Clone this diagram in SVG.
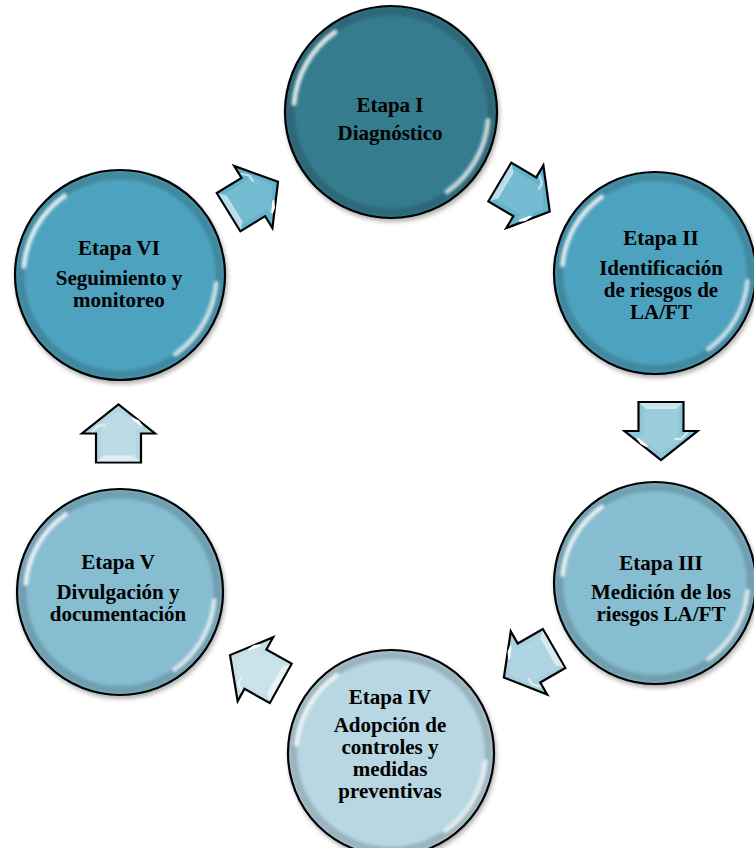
<svg xmlns="http://www.w3.org/2000/svg" xmlns:xlink="http://www.w3.org/1999/xlink" width="754" height="848" viewBox="0 0 754 848">
<style>
  .stage { stroke: #000; stroke-width: 2.2; }
  .t { font-family: "Liberation Serif", "Times New Roman", serif; font-weight: bold; font-size: 21px; fill: #000; text-anchor: middle; }
  .arrow { stroke: #000; stroke-width: 2.2; stroke-linejoin: miter; }
  .c1 { fill: #357B8F; }
  .c2 { fill: #4EA3BF; }
  .c3 { fill: #86BDD1; }
  .c4 { fill: #B8D7E3; }
  .a1 { fill: #62B3CC; }
  .a2 { fill: #8CC5D8; }
  .a3 { fill: #A6D0DE; }
  .a4 { fill: #C4DFE8; }
  .a5 { fill: #B2D6E2; }
</style>
<defs>
  <filter id="shadow" x="-20%" y="-20%" width="140%" height="140%">
    <feDropShadow dx="1.5" dy="3" stdDeviation="2.2" flood-color="#000" flood-opacity="0.3"/>
  </filter>
  <filter id="soft" x="-20%" y="-20%" width="140%" height="140%">
    <feGaussianBlur stdDeviation="1.6"/>
  </filter>
  <g id="gloss">
    <circle r="95" fill="none" stroke="#000" stroke-opacity="0.16" stroke-width="8" filter="url(#soft)"/>
    <path d="M -91.6 -8 A 92 92 0 0 1 -52.8 -75.4" fill="none" stroke="#fff" stroke-opacity="0.85" stroke-width="4.5" stroke-linecap="round" filter="url(#soft)"/>
    <path d="M 91.6 8 A 92 92 0 0 1 52.8 75.4" fill="none" stroke="#fff" stroke-opacity="0.75" stroke-width="4.5" stroke-linecap="round" filter="url(#soft)"/>
  </g>
  <path id="arrowShape" d="M -29 -22.5 L 0 -22.5 L 0 -36.5 L 29 0 L 0 36.5 L 0 22.5 L -29 22.5 Z"/>
  <g id="arrowGloss">
    <path d="M -24 -17.5 L 5 -17.5 L 5 -26 L 22 0 L 5 26 L 5 17.5 L -24 17.5 Z" fill="#fff" fill-opacity="0.12"/>
    <path d="M -28 -21.5 L -22 -15 L -22 15 L -28 21.5 Z" fill="#fff" fill-opacity="0.55"/>
    <path d="M 8 23 L 15 14 L 12 20 Z" fill="#fff" fill-opacity="0.9" stroke="#fff" stroke-width="2" stroke-linejoin="round"/>
    <path d="M 2 -26 L 8 -20 L 8 -14" fill="none" stroke="#fff" stroke-opacity="0.6" stroke-width="2" stroke-linecap="round"/>
  </g>
</defs>

<g id="connectors">
  <g transform="translate(524.8,196.8) rotate(30.6)">
    <use href="#arrowShape" class="arrow a1"/>
    <use href="#arrowGloss"/>
  </g>
  <g transform="translate(661,431) rotate(90)">
    <use href="#arrowShape" class="arrow a2"/>
    <use href="#arrowGloss"/>
  </g>
  <g transform="translate(529,663) rotate(150)">
    <use href="#arrowShape" class="arrow a3"/>
    <use href="#arrowGloss"/>
  </g>
  <g transform="translate(255.4,669.2) rotate(209.1)">
    <use href="#arrowShape" class="arrow a4"/>
    <use href="#arrowGloss"/>
  </g>
  <g transform="translate(118.5,433.5) rotate(-90)">
    <use href="#arrowShape" class="arrow a5"/>
    <use href="#arrowGloss"/>
  </g>
  <g transform="translate(253.3,197) rotate(-31.6)">
    <use href="#arrowShape" class="arrow a1"/>
    <use href="#arrowGloss"/>
  </g>
</g>

<g id="etapa1">
  <circle cx="391" cy="112" r="106" class="stage c1" filter="url(#shadow)"/>
  <use href="#gloss" transform="translate(391,112) scale(1.06)"/>
  <text class="t" x="390" y="111.5">Etapa I</text>
  <text class="t" x="390" y="140">Diagnóstico</text>
</g>

<g id="etapa2">
  <circle cx="655" cy="273" r="101" class="stage c2" filter="url(#shadow)"/>
  <use href="#gloss" transform="translate(655,273) scale(1.01)"/>
  <text class="t" x="661" y="245">Etapa II</text>
  <text class="t" x="661" y="275">Identificación<tspan x="661" dy="22">de riesgos de</tspan><tspan x="661" dy="22">LA/FT</tspan></text>
</g>

<g id="etapa3">
  <circle cx="655" cy="583" r="101" class="stage c3" filter="url(#shadow)"/>
  <use href="#gloss" transform="translate(655,583) scale(1.01)"/>
  <text class="t" x="661" y="570">Etapa III</text>
  <text class="t" x="661" y="599">Medición de los<tspan x="661" dy="22">riesgos LA/FT</tspan></text>
</g>

<g id="etapa4">
  <circle cx="391" cy="753" r="103" class="stage c4" filter="url(#shadow)"/>
  <use href="#gloss" transform="translate(391,753) scale(1.03)"/>
  <text class="t" x="390" y="704">Etapa IV</text>
  <text class="t" x="390" y="732">Adopción de<tspan x="390" dy="22">controles y</tspan><tspan x="390" dy="22">medidas</tspan><tspan x="390" dy="22">preventivas</tspan></text>
</g>

<g id="etapa5">
  <circle cx="120" cy="592" r="103" class="stage c3" filter="url(#shadow)"/>
  <use href="#gloss" transform="translate(120,592) scale(1.03)"/>
  <text class="t" x="118" y="569">Etapa V</text>
  <text class="t" x="118" y="599">Divulgación y<tspan x="118" dy="22">documentación</tspan></text>
</g>

<g id="etapa6">
  <circle cx="120" cy="275" r="105" class="stage c2" filter="url(#shadow)"/>
  <use href="#gloss" transform="translate(120,275) scale(1.05)"/>
  <text class="t" x="119" y="255">Etapa VI</text>
  <text class="t" x="119" y="285">Seguimiento y<tspan x="119" dy="22">monitoreo</tspan></text>
</g>
</svg>
